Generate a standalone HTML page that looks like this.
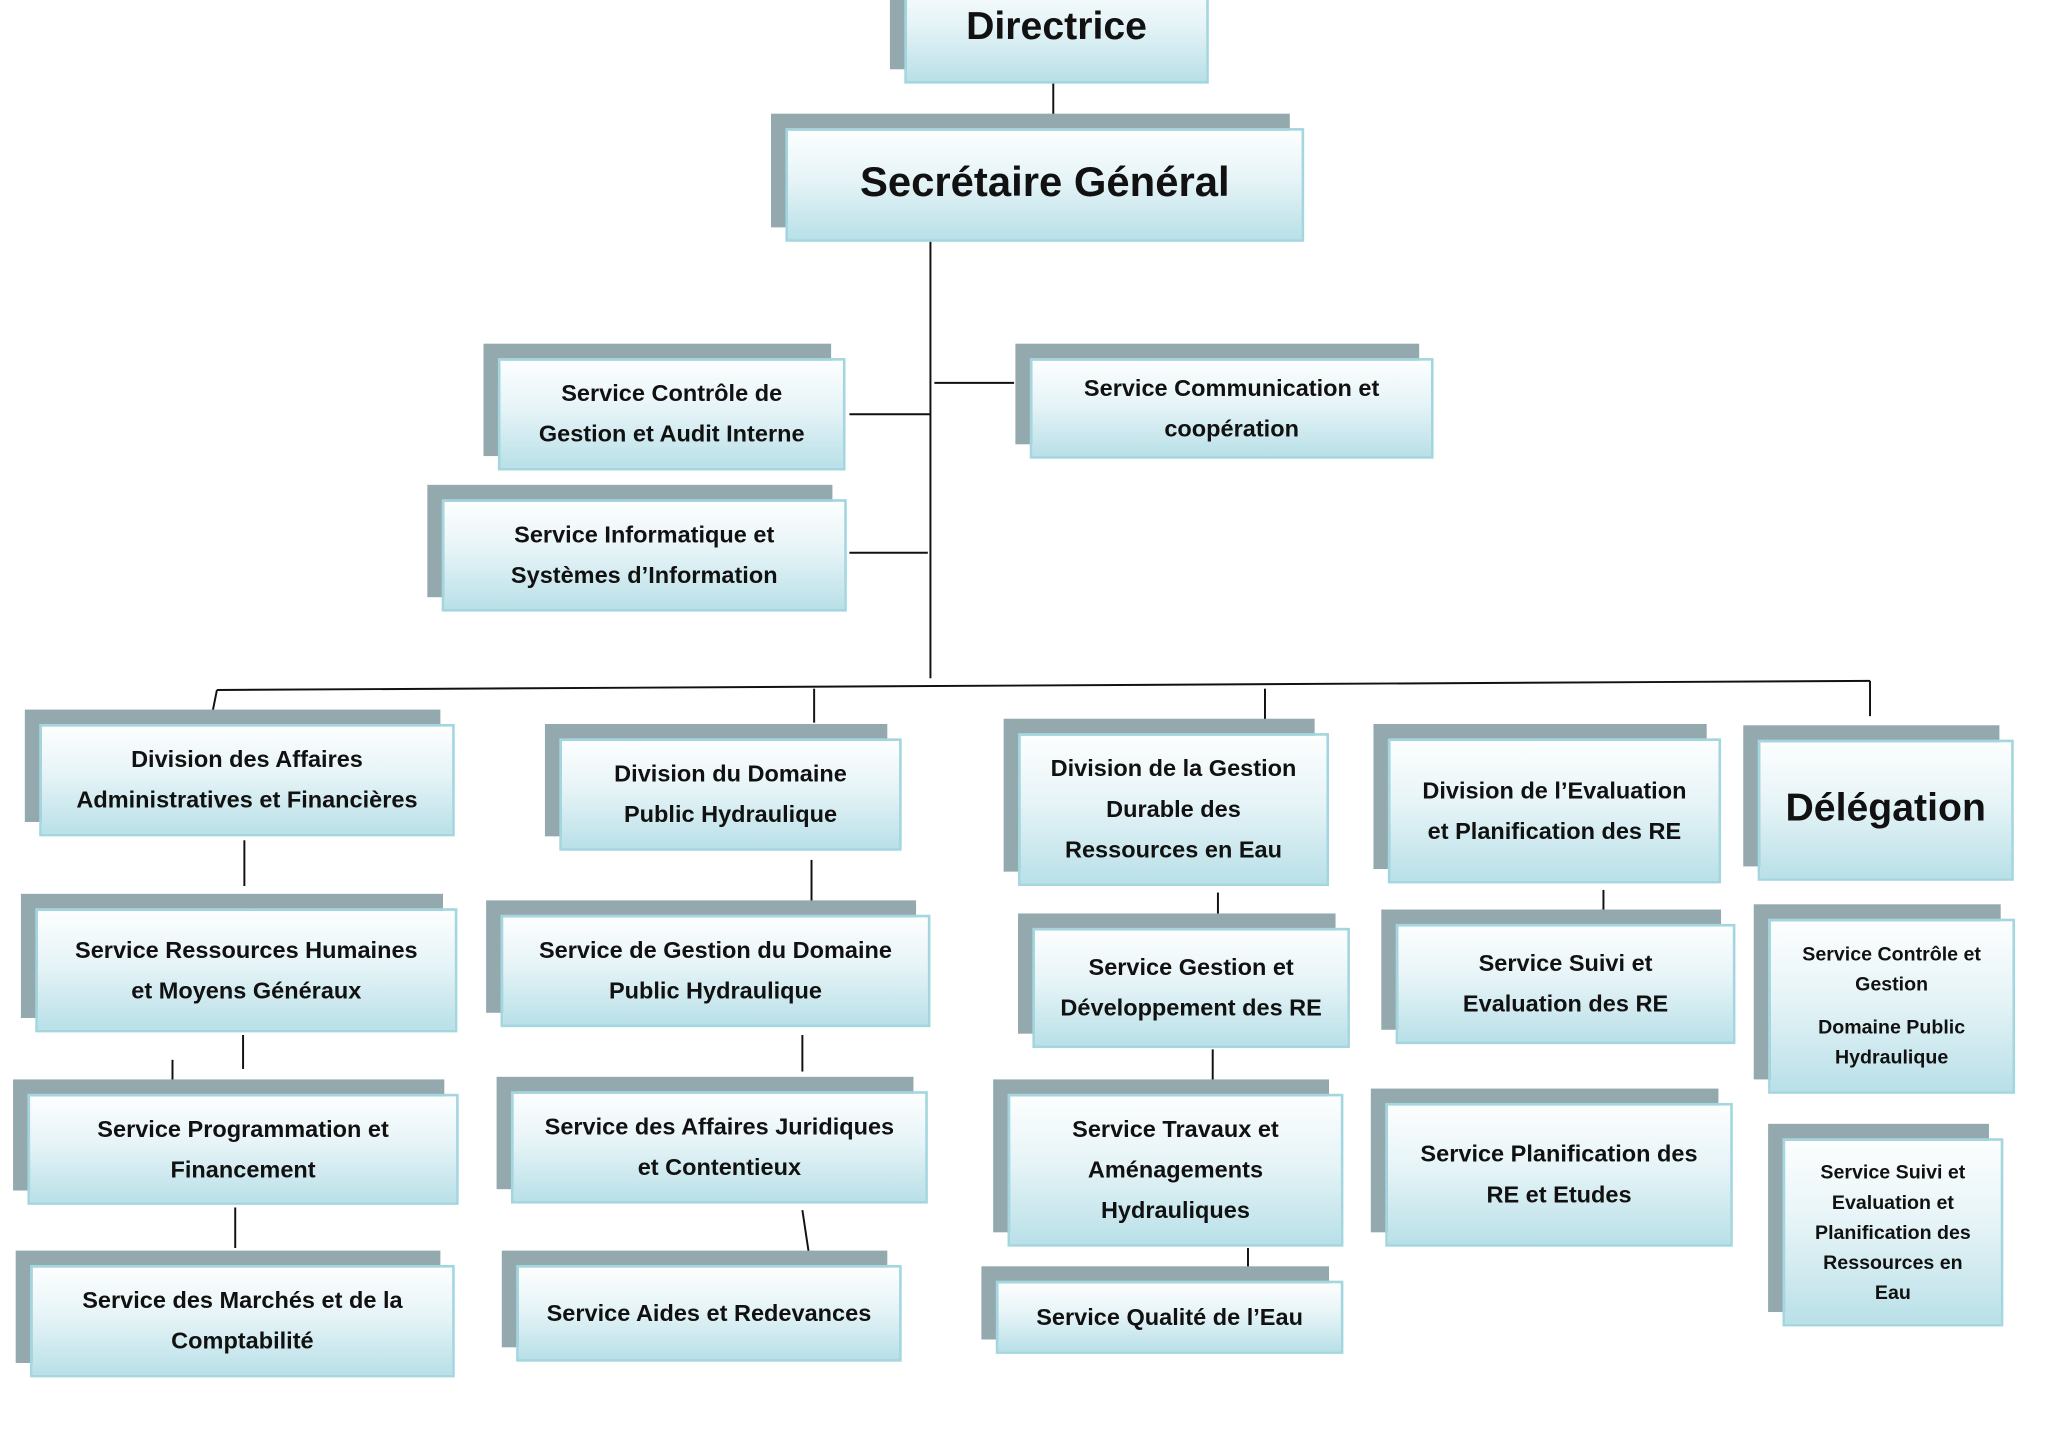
<!DOCTYPE html>
<html><head><meta charset="utf-8"><style>
html,body{margin:0;padding:0;background:#fff;width:2048px;height:1448px;overflow:hidden}
#w{position:absolute;left:0;top:0;width:1568px;height:1110px;transform:scale(1.3068);transform-origin:0 0}
.b{position:absolute;box-sizing:border-box}
.s{background:#93a9ae}
.f{border:2px solid #a3d6df;background:linear-gradient(#fdfefe 0%,#e6f4f7 45%,#b9e0e8 100%);display:flex;align-items:center;justify-content:center;text-align:center;font-family:"Liberation Sans",sans-serif;font-weight:bold;font-size:18px;line-height:31px;color:#111}
.sm{font-size:15px;line-height:23px}
svg{position:absolute;left:0;top:0}
</style></head><body><div id="w">
<svg width="1568" height="1110"><g stroke="#111" stroke-width="1.5" fill="none">
<line x1="806" y1="63" x2="806" y2="90"/>
<line x1="712" y1="185" x2="712" y2="519"/>
<line x1="650" y1="317" x2="712" y2="317"/>
<line x1="715" y1="293" x2="776" y2="293"/>
<line x1="650" y1="423" x2="710" y2="423"/>
<line x1="166" y1="528" x2="1431" y2="521"/>
<line x1="166" y1="528" x2="161" y2="553"/>
<line x1="623" y1="527" x2="623" y2="553"/>
<line x1="968" y1="527" x2="968" y2="551"/>
<line x1="1431" y1="521" x2="1431" y2="548"/>
<line x1="187" y1="643" x2="187" y2="678"/>
<line x1="621" y1="658" x2="621" y2="692"/>
<line x1="932" y1="683" x2="932" y2="702"/>
<line x1="1227" y1="681" x2="1227" y2="716"/>
<line x1="186" y1="792" x2="186" y2="818"/>
<line x1="132" y1="811" x2="132" y2="837"/>
<line x1="614" y1="792" x2="614" y2="820"/>
<line x1="928" y1="803" x2="928" y2="828"/>
<line x1="1213" y1="838" x2="1213" y2="864"/>
<line x1="180" y1="924" x2="180" y2="955"/>
<line x1="614" y1="926" x2="620" y2="966"/>
<line x1="955" y1="955" x2="955" y2="970"/>
</g></svg>
<div id="boxes"></div>
</div>
<script>
var B=[
[692,-20,233,84,'<span style="font-size:30px">Directrice</span>',''],
[601,98,397,87,'<span style="font-size:32px">Secrétaire Général</span>',''],
[381,274,266,86,'Service Contrôle de<br>Gestion et Audit Interne',''],
[788,274,309,77,'Service Communication et<br>coopération',''],
[338,382,310,86,'Service Informatique et<br>Systèmes d’Information',''],
[30,554,318,86,'Division des Affaires<br>Administratives et Financières',''],
[428,565,262,86,'Division du Domaine<br>Public Hydraulique',''],
[779,561,238,117,'Division de la Gestion<br>Durable des<br>Ressources en Eau',''],
[1062,565,255,111,'Division de l’Evaluation<br>et Planification des RE',''],
[1345,566,196,108,'<span style="font-size:30px">Délégation</span>',''],
[27,695,323,95,'Service Ressources Humaines<br>et Moyens Généraux',''],
[21,837,330,85,'Service Programmation et<br>Financement',''],
[23,968,325,86,'Service des Marchés et de la<br>Comptabilité',''],
[383,700,329,86,'Service de Gestion du Domaine<br>Public Hydraulique',''],
[391,835,319,86,'Service des Affaires Juridiques<br>et Contentieux',''],
[395,968,295,74,'Service Aides et Redevances',''],
[790,710,243,92,'Service Gestion et<br>Développement des RE',''],
[771,837,257,117,'Service Travaux et<br>Aménagements<br>Hydrauliques',''],
[762,980,266,56,'Service Qualité de l’Eau',''],
[1068,707,260,92,'Service Suivi et<br>Evaluation des RE',''],
[1060,844,266,110,'Service Planification des<br>RE et Etudes',''],
[1353,703,189,134,'Service Contrôle et<br>Gestion<br><span style="display:block;height:10px"></span>Domaine Public<br>Hydraulique',' sm'],
[1364,871,169,144,'Service Suivi et<br>Evaluation et<br>Planification des<br>Ressources en<br>Eau',' sm']
];
var h='';
B.forEach(function(b){
h+='<div class="b s" style="left:'+(b[0]-11)+'px;top:'+(b[1]-11)+'px;width:'+b[2]+'px;height:'+b[3]+'px"></div>';
h+='<div class="b f'+b[5]+'" style="left:'+b[0]+'px;top:'+b[1]+'px;width:'+b[2]+'px;height:'+b[3]+'px"><div>'+b[4]+'</div></div>';
});
document.getElementById('boxes').innerHTML=h;
</script>
</body></html>
